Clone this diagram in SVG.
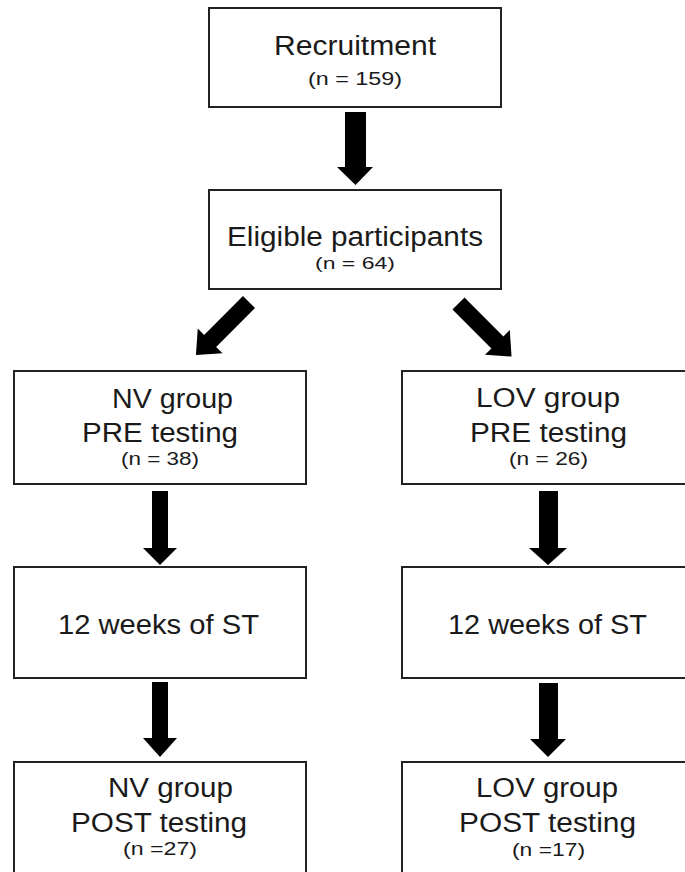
<svg xmlns="http://www.w3.org/2000/svg" width="685" height="872" viewBox="0 0 685 872">
<style>
.box{fill:#fff;stroke:#222;stroke-width:2}
.t{font-family:"Liberation Sans",Arial,sans-serif;fill:#1a1a1a;font-size:27px;text-anchor:middle}
.s{font-family:"Liberation Sans",Arial,sans-serif;fill:#1a1a1a;font-size:19px;text-anchor:middle}
.arr{fill:#000}
</style>
<defs>
<polygon id="diag" points="-8.5,0 8.5,0 8.5,55 17.5,55 0,75 -17.5,55 -8.5,55"/>
</defs>
<rect width="685" height="872" fill="#fff"/>
<g id="recruitment">
<rect class="box" x="209" y="8" width="292" height="99"/>
<text class="t" x="355" y="55" textLength="162" lengthAdjust="spacingAndGlyphs">Recruitment</text>
<text class="s" x="355" y="85" textLength="94" lengthAdjust="spacingAndGlyphs">(n = 159)</text>
</g>
<g id="eligible">
<rect class="box" x="209" y="190" width="292" height="99"/>
<text class="t" x="355" y="246" textLength="256" lengthAdjust="spacingAndGlyphs">Eligible participants</text>
<text class="s" x="355" y="269" style="font-size:17px" textLength="80" lengthAdjust="spacingAndGlyphs">(n = 64)</text>
</g>
<g id="nv-pre">
<rect class="box" x="14" y="371" width="292" height="113"/>
<text class="t" x="172.5" y="408" textLength="121" lengthAdjust="spacingAndGlyphs">NV group</text>
<text class="t" x="160" y="442" textLength="156" lengthAdjust="spacingAndGlyphs">PRE testing</text>
<text class="s" x="160" y="465" textLength="78" lengthAdjust="spacingAndGlyphs">(n = 38)</text>
</g>
<g id="nv-st">
<rect class="box" x="14" y="567" width="292" height="111"/>
<text class="t" x="158.5" y="634" textLength="201" lengthAdjust="spacingAndGlyphs">12 weeks of ST</text>
</g>
<g id="nv-post">
<rect class="box" x="14" y="762" width="292" height="130"/>
<text class="t" x="170.5" y="797" textLength="125" lengthAdjust="spacingAndGlyphs">NV group</text>
<text class="t" x="159" y="832" textLength="176" lengthAdjust="spacingAndGlyphs">POST testing</text>
<text class="s" x="160" y="855" textLength="74" lengthAdjust="spacingAndGlyphs">(n =27)</text>
</g>
<g id="lov-pre">
<rect class="box" x="402" y="371" width="292" height="113"/>
<text class="t" x="548" y="407" textLength="144" lengthAdjust="spacingAndGlyphs">LOV group</text>
<text class="t" x="548.5" y="442" textLength="157" lengthAdjust="spacingAndGlyphs">PRE testing</text>
<text class="s" x="548.5" y="465" textLength="79" lengthAdjust="spacingAndGlyphs">(n = 26)</text>
</g>
<g id="lov-st">
<rect class="box" x="402" y="567" width="292" height="111"/>
<text class="t" x="547.5" y="634" textLength="199" lengthAdjust="spacingAndGlyphs">12 weeks of ST</text>
</g>
<g id="lov-post">
<rect class="box" x="402" y="762" width="292" height="130"/>
<text class="t" x="547" y="797" textLength="142" lengthAdjust="spacingAndGlyphs">LOV group</text>
<text class="t" x="547.5" y="832" textLength="177" lengthAdjust="spacingAndGlyphs">POST testing</text>
<text class="s" x="548.5" y="856" textLength="73" lengthAdjust="spacingAndGlyphs">(n =17)</text>
</g>
<g id="connectors" class="arr">
<polygon points="345,112 366,112 366,167 373,167 355.5,185 337,167 345,167"/>
<use href="#diag" transform="translate(249,302) rotate(45)"/>
<use href="#diag" transform="translate(458.5,303.5) rotate(-45)"/>
<polygon points="152,491 168,491 168,548 177,548 160,565 143,548 152,548"/>
<polygon points="152,682 168,682 168,738 177,738 160,757 143,738 152,738"/>
<polygon points="539,491 558,491 558,548 567,548 548,565 529,548 539,548"/>
<polygon points="539,683 558,683 558,739 566,739 548,757 530,739 539,739"/>
</g>
</svg>
